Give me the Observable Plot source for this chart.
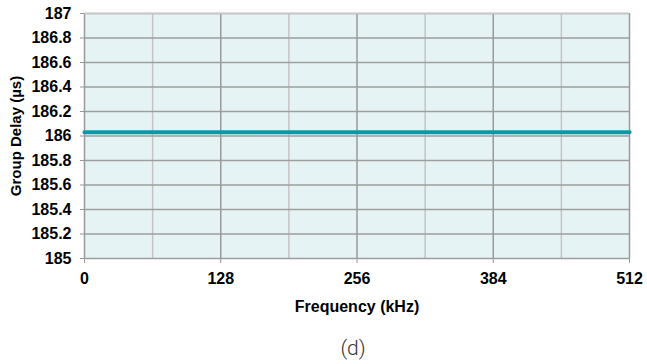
<!DOCTYPE html>
<html><head><meta charset="utf-8">
<script src="https://cdn.jsdelivr.net/npm/d3@7"></script>
<script src="https://cdn.jsdelivr.net/npm/@observablehq/plot@0.6"></script>
<style>
body{margin:0;background:#fff;font-family:"Liberation Sans",Arial,sans-serif;}
#chart svg{display:block;}
#cap{width:647px;text-align:center;padding-left:59px;box-sizing:border-box;font-size:21px;line-height:24px;font-weight:300;color:#333;margin-top:0;font-family:Roboto,"Liberation Sans",Arial,sans-serif;}
</style></head>
<body><div id="chart"></div><div id="cap">(d)</div>
<script>
const frequency = [0, 64, 128, 192, 256, 320, 384, 448, 512];
const groupDelay = [186.03, 186.03, 186.03, 186.03, 186.03, 186.03, 186.03, 186.03, 186.03];
const xTicks = [0, 128, 256, 384, 512];
const xMinor = [64, 192, 320, 448];
const yTicks = [185, 185.2, 185.4, 185.6, 185.8, 186, 186.2, 186.4, 186.6, 186.8, 187];
const xTitle = "Frequency (kHz)";
const yTitle = "Group Delay (µs)";
const data = frequency.map((f, i) => ({f, d: groupDelay[i]}));
const fmt = d => String(+d.toFixed(1));

const plot = Plot.plot({
  width: 647, height: 336,
  marginLeft: 84, marginRight: 18, marginTop: 13, marginBottom: 78,
  style: {fontFamily: '"Liberation Sans", Arial, sans-serif', fontSize: "16px", fontWeight: "bold", color: "#000"},
  x: {domain: [0, 512]},
  y: {domain: [185, 187]},
  marks: [
    Plot.rect([0], {x1: 0, x2: 512, y1: 185, y2: 187, fill: "#e6f3f4"}),
    Plot.ruleX(xMinor, {stroke: "#c4c4c4", strokeWidth: 1.5}),
    Plot.ruleY(yTicks, {stroke: "#9e9e9e", strokeWidth: 1.5}),
    Plot.ruleX(xTicks, {stroke: "#9a9a9a", strokeWidth: 1.5}),
    Plot.ruleY([187], {stroke: "#c8c8c8", strokeWidth: 1.5}),
    Plot.line(data, {x: "f", y: "d", stroke: "#0a9aa6", strokeWidth: 4}),
    Plot.axisX({ticks: xTicks, tickSize: 5, tickPadding: 9, stroke: "#999", label: null}),
    Plot.axisY({ticks: yTicks, tickSize: 4, tickPadding: 9, stroke: "#999", tickFormat: fmt, label: null}),
    Plot.text([xTitle], {text: d => d, frameAnchor: "bottom", textAnchor: "middle", dy: 53, fontSize: 16, fontWeight: "bold", fill: "#000"}),
    Plot.text([yTitle], {text: d => d, frameAnchor: "left", textAnchor: "middle", dx: -68, rotate: -90, fontSize: 15, fontWeight: "bold", fill: "#000"})
  ]
});
document.getElementById("chart").appendChild(plot);
</script></body></html>
